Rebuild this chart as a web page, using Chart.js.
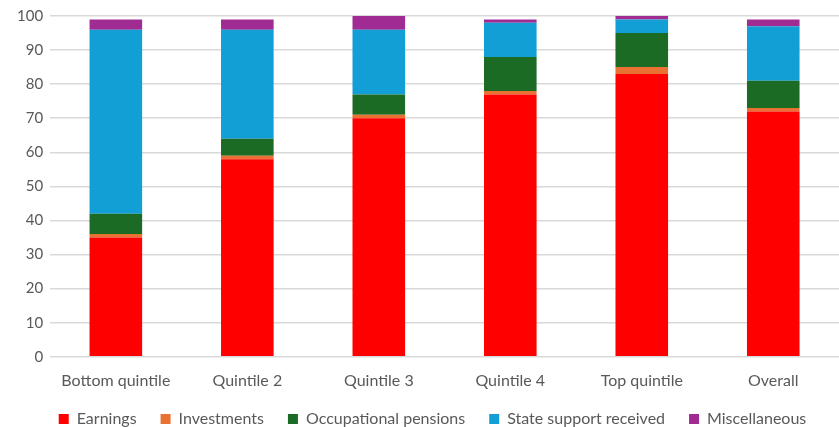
<!DOCTYPE html>
<html><head><meta charset="utf-8">
<script src="https://cdn.jsdelivr.net/npm/chart.js@4"></script>
<style>html,body{margin:0;padding:0;background:#fff}#wrap{width:839px;height:427px}</style>
</head><body><div id="wrap"><canvas id="c"></canvas></div>
<script>
const categories = ["Bottom quintile","Quintile 2","Quintile 3","Quintile 4","Top quintile","Overall"];
const earnings = [35,58,70,77,83,72];
const investments = [1,1,1,1,2,1];
const occupationalPensions = [6,5,6,10,10,8];
const stateSupport = [54,32,19,10,4,16];
const miscellaneous = [3,3,4,1,1,2];
const yTicks = [0,10,20,30,40,50,60,70,80,90,100];

const mk = (label, data, color) => ({label, data, backgroundColor: color, borderWidth: 0, barPercentage: 0.8, categoryPercentage: 0.5});
const legendTweak = {
  id: 'legendTweak',
  beforeInit(chart) {
    const lg = chart.legend;
    const orig = lg.fit;
    lg.fit = function () { orig.call(this); this.height -= 19; };
  },
  afterLayout(chart) {
    const lg = chart.legend;
    lg.top -= 9;
    lg.left += 8; lg.right += 8;
  }
};
new Chart(document.getElementById('c'), {
  type: 'bar',
  data: {
    labels: categories,
    datasets: [
      mk('Earnings', earnings, '#FF0000'),
      mk('Investments', investments, '#E97132'),
      mk('Occupational pensions', occupationalPensions, '#1B6B24'),
      mk('State support received', stateSupport, '#119FD6'),
      mk('Miscellaneous', miscellaneous, '#A02B93')
    ]
  },
  plugins: [legendTweak],
  options: {
    responsive: true, maintainAspectRatio: false, animation: false,
    layout: {padding: {left: 10, right: 0, top: 10, bottom: 0}},
    plugins: {
      legend: {position: 'bottom', labels: {boxWidth: 10, boxHeight: 10, padding: 24, color: '#595959', font: {family: 'Lato', size: 16}}},
      tooltip: {enabled: false}
    },
    scales: {
      x: {stacked: true, grid: {display: false}, border: {color: '#d9d9d9'},
          ticks: {color: '#595959', font: {family: 'Lato', size: 16}, padding: 6}},
      y: {stacked: true, min: 0, max: 100, afterBuildTicks: ax => { ax.ticks = yTicks.map(v => ({value: v})); },
          grid: {color: '#d9d9d9', lineWidth: 1.5, drawTicks: false}, border: {display: false},
          ticks: {color: '#595959', font: {family: 'Lato', size: 15}, padding: 7}}
    }
  }
});
</script></body></html>
